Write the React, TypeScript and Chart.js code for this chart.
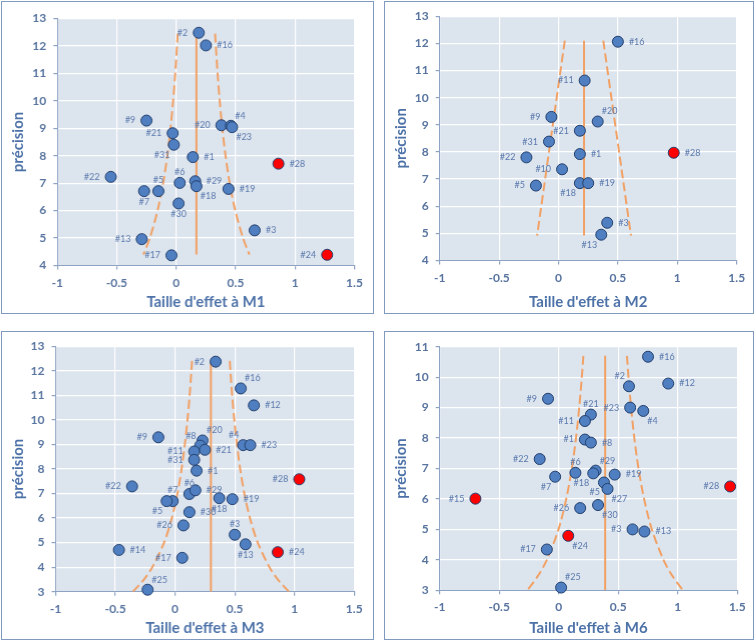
import React, { useEffect, useRef } from 'react';
import { Chart, registerables } from 'chart.js';

Chart.register(...registerables);

// ---- M1 ----
const m1Labels = ['#2', '#16', '#9', '#20', '#4', '#23', '#21', '#31', '#1', '#28', '#22', '#6', '#29', '#18', '#19', '#5', '#7', '#30', '#3', '#13', '#17', '#24'];
const m1Effect = [0.19, 0.25, -0.25, 0.38, 0.46, 0.47, -0.03, -0.02, 0.14, 0.86, -0.55, 0.03, 0.16, 0.17, 0.44, -0.15, -0.27, 0.02, 0.66, -0.29, -0.04, 1.27];
const m1Precision = [12.48, 12.02, 9.28, 9.11, 9.09, 9.04, 8.82, 8.4, 7.95, 7.71, 7.23, 7.01, 7.07, 6.89, 6.79, 6.71, 6.71, 6.26, 5.28, 4.96, 4.37, 4.39];
const m1LabelPos = ['l', 'r', 'l', 'l', 'tr', 'br', 'l', 'bl', 'r', 'r', 'l', 't', 'r', 'br', 'r', 't', 'b', 'b', 'r', 'l', 'l', 'l'];
const m1Outliers = ['#28', '#24'];
const m1FunnelY = [12.45, 11, 10, 9, 8, 7, 6, 5, 4.4];
const m1FunnelLeft = [0.013, -0.008, -0.026, -0.048, -0.075, -0.11, -0.157, -0.222, -0.276];
const m1FunnelRight = [0.327, 0.348, 0.366, 0.388, 0.415, 0.45, 0.497, 0.562, 0.616];
const m1Mean = 0.17;

// ---- M2 ----
const m2Labels = ['#16', '#11', '#9', '#20', '#21', '#31', '#1', '#28', '#22', '#10', '#18', '#19', '#5', '#3', '#13'];
const m2Effect = [0.5, 0.22, -0.06, 0.33, 0.18, -0.08, 0.18, 0.97, -0.27, 0.03, 0.18, 0.25, -0.19, 0.41, 0.36];
const m2Precision = [12.06, 10.63, 9.29, 9.12, 8.78, 8.38, 7.92, 7.97, 7.8, 7.36, 6.85, 6.85, 6.76, 5.39, 4.95];
const m2LabelPos = ['r', 'l', 'l', 'tr', 'l', 'l', 'r', 'r', 'l', 'l', 'bl', 'r', 'l', 'r', 'bl'];
const m2Outliers = ['#28'];
const m2FunnelY = [12.1, 4.92];
const m2FunnelLeft = [0.053, -0.18];
const m2FunnelRight = [0.377, 0.61];
const m2Mean = 0.215;

// ---- M3 ----
const m3Labels = ['#2', '#16', '#12', '#9', '#20', '#8', '#4', '#23', '#11', '#21', '#31', '#1', '#28', '#22', '#6', '#29', '#7', '#5', '#18', '#19', '#30', '#26', '#3', '#13', '#24', '#14', '#17', '#25'];
const m3Effect = [0.34, 0.55, 0.66, -0.14, 0.23, 0.21, 0.57, 0.63, 0.16, 0.25, 0.16, 0.18, 1.04, -0.36, 0.12, 0.17, -0.02, -0.07, 0.37, 0.48, 0.12, 0.07, 0.5, 0.59, 0.86, -0.47, 0.06, -0.23];
const m3Precision = [12.37, 11.28, 10.59, 9.29, 9.16, 8.95, 8.97, 8.97, 8.71, 8.78, 8.37, 7.93, 7.58, 7.29, 6.98, 7.13, 6.69, 6.69, 6.81, 6.77, 6.24, 5.7, 5.32, 4.93, 4.61, 4.7, 4.38, 3.08];
const m3LabelPos = ['l', 'tr', 'r', 'l', 'tr', 'tl', 'tl', 'r', 'l', 'r', 'l', 'r', 'l', 'l', 't', 'r', 't', 'bl', 'b', 'r', 'r', 'l', 't', 'b', 'r', 'r', 'l', 'tr'];
const m3Outliers = ['#28', '#24'];
const m3FunnelY = [12.4, 11, 10, 9, 8, 7, 6, 5, 4, 3.5, 3];
const m3FunnelLeft = [0.142, 0.122, 0.104, 0.082, 0.055, 0.02, -0.027, -0.092, -0.19, -0.26, -0.353];
const m3FunnelRight = [0.458, 0.478, 0.496, 0.518, 0.545, 0.58, 0.627, 0.692, 0.79, 0.86, 0.953];
const m3Mean = 0.3;

// ---- M6 ----
const m6Labels = ['#16', '#2', '#12', '#9', '#21', '#23', '#4', '#11', '#1', '#8', '#22', '#6', '#29', '#18', '#19', '#7', '#5', '#27', '#28', '#15', '#26', '#30', '#3', '#13', '#24', '#17', '#25'];
const m6Effect = [0.75, 0.59, 0.92, -0.09, 0.27, 0.6, 0.71, 0.22, 0.22, 0.27, -0.16, 0.14, 0.31, 0.29, 0.47, -0.03, 0.38, 0.41, 1.44, -0.7, 0.18, 0.33, 0.62, 0.72, 0.08, -0.1, 0.02];
const m6Precision = [10.67, 9.7, 9.79, 9.29, 8.77, 9.0, 8.89, 8.56, 7.95, 7.85, 7.31, 6.86, 6.93, 6.84, 6.8, 6.73, 6.54, 6.33, 6.41, 6.01, 5.7, 5.8, 5.0, 4.93, 4.79, 4.34, 3.09];
const m6LabelPos = ['r', 'tl', 'r', 'l', 't', 'l', 'br', 'l', 'l', 'r', 'l', 't', 'tr', 'bl', 'r', 'bl', 'bl', 'br', 'l', 'l', 'l', 'br', 'l', 'r', 'br', 'l', 'tr'];
const m6Outliers = ['#15', '#24', '#28'];
const m6FunnelY = [10.7, 10, 9, 8, 7, 6, 5, 4, 3.5, 3];
const m6FunnelLeft = [0.207, 0.194, 0.172, 0.145, 0.11, 0.063, -0.002, -0.1, -0.17, -0.263];
const m6FunnelRight = [0.573, 0.586, 0.608, 0.635, 0.67, 0.717, 0.782, 0.88, 0.95, 1.043];
const m6Mean = 0.39;

const FONT = 'Lato, "Noto Sans", sans-serif';
const AXIS_TEXT = '#58749f';
const TITLE_TEXT = '#4d72a8';
const LABEL_TEXT = '#5a79ad';
const AXIS_LINE = '#8ea3c4';
const PLOT_BG = '#dce4ee';
const FUNNEL = '#f2a165';
const BORDER_W = 1.5;

interface Box { left: number; top: number; right: number; bottom: number; }

interface PanelProps {
  title: string;
  labels: string[];
  effect: number[];
  precision: number[];
  labelPos: string[];
  outliers: string[];
  funnelY: number[];
  funnelLeft: number[];
  funnelRight: number[];
  mean: number;
  yMin: number;
  yMax: number;
  box: Box;
  plot: Box;
}

const OFFSETS: Record<string, [number, number, CanvasTextAlign]> = {
  l: [-11, 0, 'right'],
  r: [11, 0, 'left'],
  t: [0, -11, 'center'],
  b: [0, 11, 'center'],
  tl: [-4, -10, 'right'],
  tr: [4, -10, 'left'],
  bl: [-4, 10, 'right'],
  br: [4, 10, 'left'],
};

const FunnelPanel: React.FC<PanelProps> = (p) => {
  const canvasRef = useRef<HTMLCanvasElement>(null);
  const chartRef = useRef<Chart | null>(null);

  useEffect(() => {
    if (!canvasRef.current) return;
    if (chartRef.current) chartRef.current.destroy();

    const cl = p.box.left + BORDER_W;
    const ct = p.box.top + BORDER_W;
    const cr = p.box.right - BORDER_W;
    const cb = p.box.bottom - BORDER_W;
    const yW = p.plot.left - cl;
    const xH = cb - p.plot.bottom;

    const plotBg = {
      id: 'plotBg',
      beforeDraw: (chart: any) => {
        const { ctx, chartArea } = chart;
        ctx.save();
        ctx.fillStyle = PLOT_BG;
        ctx.fillRect(chartArea.left, chartArea.top, chartArea.right - chartArea.left, chartArea.bottom - chartArea.top);
        ctx.restore();
      },
    };

    const pointLabels = {
      id: 'pointLabels',
      afterDatasetsDraw: (chart: any) => {
        const { ctx } = chart;
        const meta = chart.getDatasetMeta(0);
        ctx.save();
        ctx.font = `9px ${FONT}`;
        ctx.fillStyle = LABEL_TEXT;
        ctx.textBaseline = 'middle';
        meta.data.forEach((el: any, i: number) => {
          const [dx, dy, align] = OFFSETS[p.labelPos[i]] || OFFSETS.r;
          ctx.textAlign = align;
          ctx.fillText(p.labels[i], el.x + dx, el.y + dy);
        });
        ctx.restore();
      },
    };

    const funnelStyle = {
      showLine: true,
      borderColor: FUNNEL,
      borderWidth: 2,
      borderDash: [9, 4],
      pointRadius: 0,
      tension: 0.3,
      fill: false,
    };

    chartRef.current = new Chart(canvasRef.current, {
      type: 'scatter',
      data: {
        datasets: [
          {
            data: p.effect.map((x, i) => ({ x, y: p.precision[i] })),
            pointRadius: 5.5,
            pointHoverRadius: 5.5,
            backgroundColor: p.labels.map((l) => (p.outliers.includes(l) ? '#ff0000' : '#4f7fc1')),
            borderColor: '#23406d',
            borderWidth: 1,
            clip: false,
          } as any,
          {
            data: [{ x: p.mean, y: p.funnelY[0] }, { x: p.mean, y: p.funnelY[p.funnelY.length - 1] }],
            showLine: true,
            borderColor: FUNNEL,
            borderWidth: 2,
            pointRadius: 0,
          },
          { ...funnelStyle, data: p.funnelY.map((y, i) => ({ x: p.funnelLeft[i], y })) },
          { ...funnelStyle, data: p.funnelY.map((y, i) => ({ x: p.funnelRight[i], y })) },
        ],
      },
      options: {
        responsive: true,
        maintainAspectRatio: false,
        animation: false,
        events: [],
        layout: {
          padding: { top: p.plot.top - ct, right: cr - p.plot.right, left: 0, bottom: 0 },
        },
        plugins: {
          legend: { display: false },
          tooltip: { enabled: false },
        },
        scales: {
          x: {
            type: 'linear',
            min: -1,
            max: 1.5,
            afterFit: (s: any) => { s.height = xH; },
            ticks: {
              stepSize: 0.5,
              color: AXIS_TEXT,
              font: { family: FONT, size: 12, weight: 'bold' },
              padding: 6,
              callback: (v: any) => String(v),
            },
            grid: { color: '#ffffff', lineWidth: 1.2, tickLength: 4, tickColor: AXIS_LINE },
            border: { color: AXIS_LINE, width: 1 },
            title: {
              display: true,
              text: p.title,
              color: TITLE_TEXT,
              font: { family: FONT, size: 15, weight: 'bold' },
              padding: { top: 0, bottom: 2 },
            },
          },
          y: {
            type: 'linear',
            min: p.yMin,
            max: p.yMax,
            afterFit: (s: any) => { s.width = yW; },
            ticks: {
              stepSize: 1,
              color: AXIS_TEXT,
              font: { family: FONT, size: 12, weight: 'bold' },
              padding: 7,
            },
            grid: { color: '#ffffff', lineWidth: 1.2, tickLength: 4, tickColor: AXIS_LINE },
            border: { color: AXIS_LINE, width: 1 },
            title: {
              display: true,
              text: 'précision',
              color: TITLE_TEXT,
              font: { family: FONT, size: 15, weight: 'bold' },
              padding: { top: 7, bottom: 0 },
            },
          },
        },
      } as any,
      plugins: [plotBg, pointLabels],
    });

    return () => {
      if (chartRef.current) {
        chartRef.current.destroy();
        chartRef.current = null;
      }
    };
  }, [p]);

  return (
    <div
      style={{
        position: 'absolute',
        left: p.box.left,
        top: p.box.top,
        width: p.box.right - p.box.left,
        height: p.box.bottom - p.box.top,
        border: `${BORDER_W}px solid #8099bf`,
        boxSizing: 'border-box',
        background: '#ffffff',
      }}
    >
      <div style={{ position: 'relative', width: '100%', height: '100%' }}>
        <canvas ref={canvasRef}></canvas>
      </div>
    </div>
  );
};

const App: React.FC = () => {
  return (
    <div style={{ position: 'absolute', left: 0, top: 0, width: 756, height: 641, background: '#ffffff' }}>
      <FunnelPanel
        title="Taille d'effet à M1"
        labels={m1Labels} effect={m1Effect} precision={m1Precision} labelPos={m1LabelPos} outliers={m1Outliers}
        funnelY={m1FunnelY} funnelLeft={m1FunnelLeft} funnelRight={m1FunnelRight} mean={m1Mean}
        yMin={4} yMax={13}
        box={{ left: 1, top: 1, right: 373.5, bottom: 314 }}
        plot={{ left: 57.7, top: 19, right: 353, bottom: 265 }}
      />
      <FunnelPanel
        title="Taille d'effet à M2"
        labels={m2Labels} effect={m2Effect} precision={m2Precision} labelPos={m2LabelPos} outliers={m2Outliers}
        funnelY={m2FunnelY} funnelLeft={m2FunnelLeft} funnelRight={m2FunnelRight} mean={m2Mean}
        yMin={4} yMax={13}
        box={{ left: 383.5, top: 1, right: 754, bottom: 314 }}
        plot={{ left: 439.7, top: 16.7, right: 735.7, bottom: 260 }}
      />
      <FunnelPanel
        title="Taille d'effet à M3"
        labels={m3Labels} effect={m3Effect} precision={m3Precision} labelPos={m3LabelPos} outliers={m3Outliers}
        funnelY={m3FunnelY} funnelLeft={m3FunnelLeft} funnelRight={m3FunnelRight} mean={m3Mean}
        yMin={3} yMax={13}
        box={{ left: 1, top: 330.5, right: 373.5, bottom: 639.5 }}
        plot={{ left: 56, top: 346, right: 352.7, bottom: 590.7 }}
      />
      <FunnelPanel
        title="Taille d'effet à M6"
        labels={m6Labels} effect={m6Effect} precision={m6Precision} labelPos={m6LabelPos} outliers={m6Outliers}
        funnelY={m6FunnelY} funnelLeft={m6FunnelLeft} funnelRight={m6FunnelRight} mean={m6Mean}
        yMin={3} yMax={11}
        box={{ left: 383.5, top: 330.5, right: 754, bottom: 639.5 }}
        plot={{ left: 439.7, top: 346.7, right: 736.3, bottom: 589.3 }}
      />
    </div>
  );
};

export default App;
